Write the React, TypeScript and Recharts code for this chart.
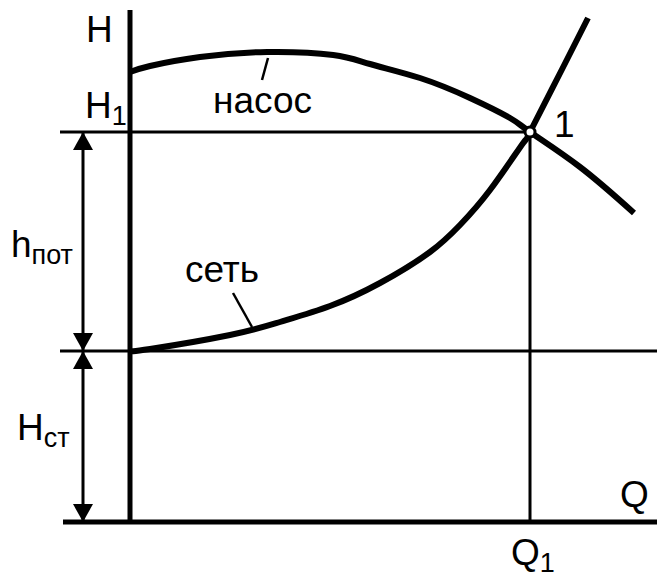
import React from 'react'
import { ComposedChart, Line, Scatter, XAxis, YAxis, ReferenceLine } from 'recharts'

// характеристика насоса H(Q)
const pumpCurve = [
  { q: 0, h: 22.5 },
  { q: 0.5, h: 22.8 },
  { q: 1.75, h: 23.25 },
  { q: 3.43, h: 23.5 },
  { q: 5.08, h: 23.35 },
  { q: 6.0, h: 22.9 },
  { q: 7.25, h: 22.2 },
  { q: 8.5, h: 21.2 },
  { q: 9.5, h: 20.2 },
  { q: 10, h: 19.5 },
  { q: 11.25, h: 17.75 },
  { q: 12.6, h: 15.45 },
]

// характеристика сети
const netCurve = [
  { q: 0, h: 8.55 },
  { q: 0.5, h: 8.65 },
  { q: 2.5, h: 9.35 },
  { q: 3.75, h: 10.0 },
  { q: 5.0, h: 10.8 },
  { q: 6.25, h: 11.95 },
  { q: 7.5, h: 13.5 },
  { q: 8.25, h: 14.85 },
  { q: 9.0, h: 16.6 },
  { q: 9.83, h: 18.95 },
  { q: 10, h: 19.5 },
  { q: 10.83, h: 22.75 },
  { q: 11.45, h: 25.2 },
]

// рабочая точка 1
const Q1 = 10
const H1 = 19.5
const HST = 8.55
const workPoint = [{ q: Q1, h: H1 }]

// подписи: основной текст + индекс
const labels = [
  { q: -1.1, h: 24.0, text: 'H', sub: '' },
  { q: -1.125, h: 20.2, text: 'H', sub: '1' },
  { q: -2.975, h: 13.25, text: 'h', sub: 'пот' },
  { q: -2.825, h: 4.1, text: 'H', sub: 'ст' },
  { q: 2.075, h: 20.45, text: 'насос', sub: '' },
  { q: 1.375, h: 12.0, text: 'сеть', sub: '' },
  { q: 10.6, h: 19.25, text: '1', sub: '' },
  { q: 12.25, h: 0.75, text: 'Q', sub: '' },
  { q: 9.525, h: -2.15, text: 'Q', sub: '1' },
]

// размерные стрелки h_пот и H_ст
const dimX = -1.175
const arrowTips = [
  { q: dimX, h: H1, dir: 'up' },
  { q: dimX, h: HST, dir: 'down' },
  { q: dimX, h: HST, dir: 'up' },
  { q: dimX, h: 0, dir: 'down' },
]

const FONT = '"Liberation Sans", Arial, sans-serif'

const renderLabel = (props: any) => {
  const { cx, cy, payload } = props
  return (
    <text x={cx} y={cy} fontSize={37} fontFamily={FONT} fill="#000">
      {payload.text}
      {payload.sub ? (
        <tspan fontSize={27} dy={7}>
          {payload.sub}
        </tspan>
      ) : null}
    </text>
  )
}

const renderArrow = (props: any) => {
  const { cx, cy, payload } = props
  const s = payload.dir === 'up' ? 1 : -1
  return <path d={`M${cx},${cy} L${cx - 10},${cy + s * 18} L${cx + 10},${cy + s * 18} Z`} fill="#000" />
}

const renderPoint = (props: any) => {
  const { cx, cy } = props
  return <circle cx={cx} cy={cy} r={5} fill="#fff" stroke="#000" strokeWidth={3} />
}

export default function App() {
  return (
    <div style={{ position: 'absolute', left: 0, top: 0, background: '#fff' }}>
      <ComposedChart width={657} height={578} margin={{ top: 0, right: 0, bottom: 0, left: 0 }}>
        <XAxis type="number" dataKey="q" domain={[-3.25, 13.175]} allowDataOverflow hide />
        <YAxis type="number" dataKey="h" domain={[-2.8, 26.1]} allowDataOverflow hide />

        {/* оси */}
        <ReferenceLine segment={[{ x: 0, y: 0 }, { x: 0, y: 25.6 }]} stroke="#000" strokeWidth={5} />
        <ReferenceLine segment={[{ x: -1.675, y: 0 }, { x: 13.175, y: 0 }]} stroke="#000" strokeWidth={5} />

        {/* уровни H1, Hст и Q1 */}
        <ReferenceLine segment={[{ x: -1.75, y: H1 }, { x: Q1, y: H1 }]} stroke="#000" strokeWidth={3} />
        <ReferenceLine segment={[{ x: -1.75, y: HST }, { x: 13.175, y: HST }]} stroke="#000" strokeWidth={3} />
        <ReferenceLine segment={[{ x: Q1, y: 0 }, { x: Q1, y: H1 }]} stroke="#000" strokeWidth={3} />

        {/* размерная линия */}
        <ReferenceLine segment={[{ x: dimX, y: 0 }, { x: dimX, y: H1 }]} stroke="#000" strokeWidth={3} />

        {/* выноски */}
        <ReferenceLine segment={[{ x: 3.45, y: 23.2 }, { x: 3.3, y: 22.1 }]} stroke="#000" strokeWidth={2.5} />
        <ReferenceLine segment={[{ x: 2.575, y: 11.45 }, { x: 3.05, y: 9.75 }]} stroke="#000" strokeWidth={2.5} />

        <Line data={pumpCurve} dataKey="h" type="natural" stroke="#000" strokeWidth={6} dot={false} isAnimationActive={false} />
        <Line data={netCurve} dataKey="h" type="natural" stroke="#000" strokeWidth={6} dot={false} isAnimationActive={false} />

        <Scatter data={arrowTips} dataKey="h" shape={renderArrow} isAnimationActive={false} />
        <Scatter data={workPoint} dataKey="h" shape={renderPoint} isAnimationActive={false} />
        <Scatter data={labels} dataKey="h" shape={renderLabel} isAnimationActive={false} />
      </ComposedChart>
    </div>
  )
}
